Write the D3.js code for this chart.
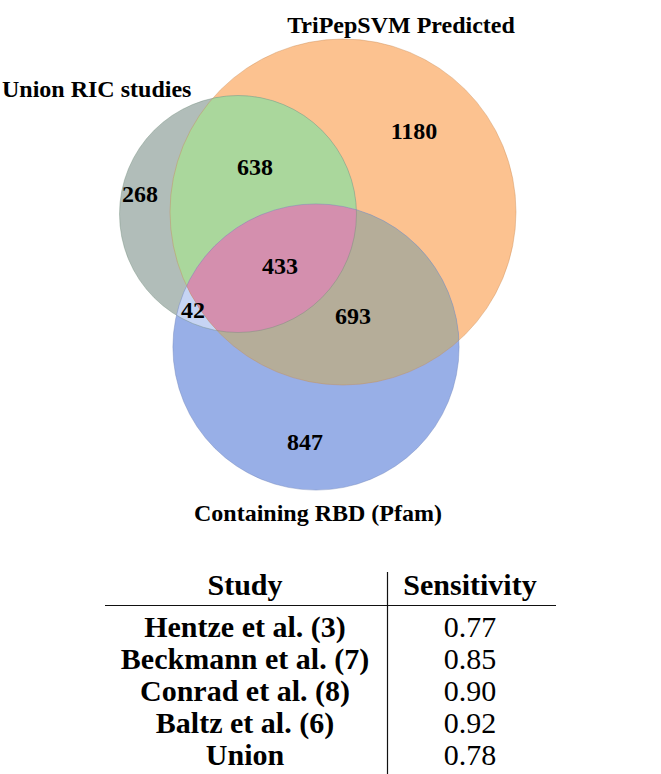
<!DOCTYPE html>
<html><head><meta charset="utf-8">
<script src="https://cdn.jsdelivr.net/npm/d3@7/dist/d3.min.js"></script></head>
<body style="margin:0">
<svg id="s" width="661" height="774" font-family="Liberation Serif"></svg>
<script>
// ---- Data ----
const setNames = ["Union RIC studies", "TriPepSVM Predicted", "Containing RBD (Pfam)"];
// region counts keyed by membership (R = Union RIC, T = TriPepSVM, P = Pfam)
const regionKeys   = ["R", "T", "P", "RT", "RP", "TP", "RTP"];
const regionCounts = [268, 1180, 847, 638, 42, 693, 433];

const studies       = ["Hentze et al. (3)", "Beckmann et al. (7)", "Conrad et al. (8)", "Baltz et al. (6)", "Union"];
const sensitivities = [0.77, 0.85, 0.90, 0.92, 0.78];
const tableHeaders  = ["Study", "Sensitivity"];

// ---- Derived set sizes ----
const setKeys = ["R", "T", "P"];
const setSizes = setKeys.map(k => d3.sum(regionKeys.map((rk, i) => rk.includes(k) ? regionCounts[i] : 0)));

// ---- Layout (positions/styles) ----
const layout = {
  centers: { R: [238, 214], T: [343, 212], P: [316, 347] },
  regionLabelPos: { R: [140, 194], T: [414, 131], P: [305, 442], RT: [255, 167], RP: [193, 310], TP: [353, 316], RTP: [280, 266] },
  setLabelPos: [[2, 89, "start"], [401, 25, "middle"], [318, 513, "middle"]],
  baseColor: { R: "#b1bdb9", T: "#fcc290", P: "#98afe7" },
  regionColor: { RT: "#aad79c", RP: "#c6d4f4", TP: "#b5ad99", RTP: "#d48fae" },
  strokeColor: { R: "#6f8a7a", T: "#c98a55", P: "#6f84b8" }
};

const svg = d3.select("#s");
const rScale = d3.scaleSqrt().domain([0, d3.max(setSizes)]).range([0, 173]);

const circles = setKeys.map((k, i) => ({ key: k, cx: layout.centers[k][0], cy: layout.centers[k][1], r: rScale(setSizes[i]) }));
const circleOf = k => circles.find(c => c.key === k);

const defs = svg.append("defs");
circles.forEach(c => {
  defs.append("clipPath").attr("id", "clip-" + c.key)
    .append("circle").attr("cx", c.cx).attr("cy", c.cy).attr("r", c.r);
});

["T", "R", "P"].forEach(k => {
  const c = circleOf(k);
  svg.append("circle").attr("cx", c.cx).attr("cy", c.cy).attr("r", c.r)
    .attr("fill", layout.baseColor[k]);
});

function drawIntersection(keys, color) {
  let g = svg;
  for (let i = 0; i < keys.length - 1; i++) {
    g = g.append("g").attr("clip-path", `url(#clip-${keys[i]})`);
  }
  const c = circleOf(keys[keys.length - 1]);
  g.append("circle").attr("cx", c.cx).attr("cy", c.cy).attr("r", c.r).attr("fill", color);
}
drawIntersection(["R", "T"], layout.regionColor.RT);
drawIntersection(["R", "P"], layout.regionColor.RP);
drawIntersection(["T", "P"], layout.regionColor.TP);
drawIntersection(["R", "T", "P"], layout.regionColor.RTP);

circles.forEach(c => {
  svg.append("circle").attr("cx", c.cx).attr("cy", c.cy).attr("r", c.r)
    .attr("fill", "none").attr("stroke", layout.strokeColor[c.key])
    .attr("stroke-opacity", 0.45).attr("stroke-width", 0.9);
});

// text helper: appended straight to the svg, start-anchored and centred by measurement
function addText(str, x, y, size, weight, anchor) {
  const t = svg.append("text").attr("x", x).attr("y", y)
    .attr("font-family", "Liberation Serif").attr("font-size", size).attr("font-weight", weight)
    .text(str);
  if (anchor === "middle") {
    const w = t.node().getComputedTextLength();
    t.attr("x", x - w / 2);
  }
  return t;
}

regionKeys.forEach((k, i) => {
  addText(String(regionCounts[i]), layout.regionLabelPos[k][0], layout.regionLabelPos[k][1] + 8, 24, "bold", "middle");
});
setNames.forEach((name, i) => {
  const p = layout.setLabelPos[i];
  addText(name, p[0], p[1] + 8, 24, "bold", p[2]);
});

// ---- Table ----
const colX = [245, 470];
const headerBaseline = 595;
const rowY = d3.scalePoint().domain(studies).range([637, 765]);

tableHeaders.forEach((h, i) => addText(h, colX[i], headerBaseline, 30, "bold", "middle"));

svg.append("line").attr("x1", 105).attr("x2", 556).attr("y1", 605.5).attr("y2", 605.5)
  .attr("stroke", "#111").attr("stroke-width", 1.2);
svg.append("line").attr("x1", 387.5).attr("x2", 387.5).attr("y1", 572).attr("y2", 774)
  .attr("stroke", "#111").attr("stroke-width", 1.2);

const fmt = d3.format(".2f");
studies.forEach((s, i) => {
  addText(s, colX[0], rowY(s), 30, "bold", "middle");
  addText(fmt(sensitivities[i]), colX[1], rowY(s), 30, "normal", "middle");
});
</script></body></html>
